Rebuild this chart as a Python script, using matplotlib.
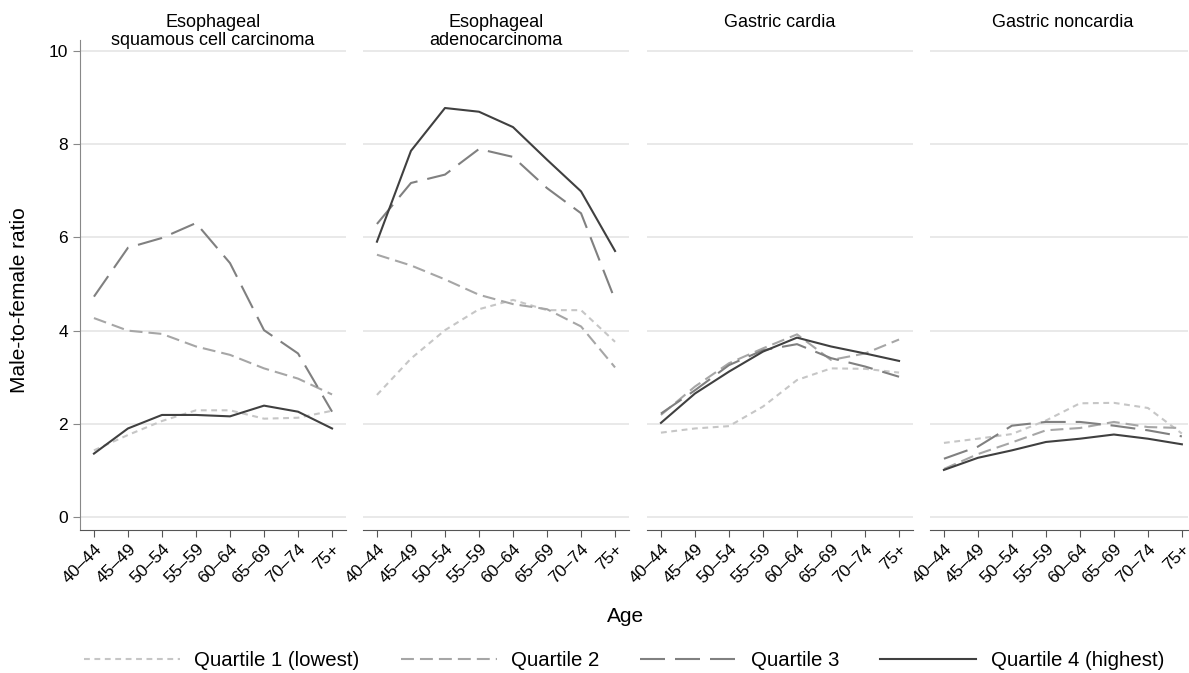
import numpy as np
import matplotlib.pyplot as plt

plt.rcParams['font.family'] = ['Liberation Sans', 'DejaVu Sans']

# -----------------------------
# Data
# -----------------------------
ages = ["40\u201344", "45\u201349", "50\u201354", "55\u201359", "60\u201364", "65\u201369", "70\u201374", "75+"]
panels = ["Esophageal\nsquamous cell carcinoma", "Esophageal\nadenocarcinoma",
          "Gastric cardia", "Gastric noncardia"]
quartiles = ["Quartile 1 (lowest)", "Quartile 2", "Quartile 3", "Quartile 4 (highest)"]

escc_q1 = [1.43, 1.76, 2.06, 2.29, 2.29, 2.11, 2.13, 2.28]
escc_q2 = [4.27, 4.00, 3.93, 3.66, 3.48, 3.19, 2.97, 2.63]
escc_q3 = [4.73, 5.78, 5.99, 6.31, 5.45, 4.01, 3.51, 2.26]
escc_q4 = [1.36, 1.90, 2.19, 2.19, 2.16, 2.39, 2.26, 1.90]

eac_q1 = [2.62, 3.40, 4.01, 4.46, 4.66, 4.44, 4.44, 3.76]
eac_q2 = [5.63, 5.40, 5.10, 4.77, 4.57, 4.46, 4.09, 3.21]
eac_q3 = [6.29, 7.17, 7.35, 7.90, 7.73, 7.06, 6.52, 4.66]
eac_q4 = [5.91, 7.86, 8.78, 8.70, 8.37, 7.67, 6.99, 5.71]

gc_q1 = [1.81, 1.90, 1.95, 2.37, 2.94, 3.19, 3.18, 3.10]
gc_q2 = [2.19, 2.80, 3.30, 3.62, 3.92, 3.37, 3.51, 3.81]
gc_q3 = [2.22, 2.72, 3.26, 3.58, 3.71, 3.41, 3.23, 3.01]
gc_q4 = [2.02, 2.65, 3.12, 3.55, 3.85, 3.66, 3.51, 3.35]

gnc_q1 = [1.59, 1.68, 1.78, 2.07, 2.44, 2.45, 2.34, 1.79]
gnc_q2 = [1.03, 1.35, 1.60, 1.86, 1.91, 2.04, 1.93, 1.91]
gnc_q3 = [1.25, 1.51, 1.96, 2.04, 2.04, 1.96, 1.86, 1.73]
gnc_q4 = [1.01, 1.27, 1.43, 1.61, 1.68, 1.77, 1.68, 1.56]

data = [
    [escc_q1, escc_q2, escc_q3, escc_q4],
    [eac_q1, eac_q2, eac_q3, eac_q4],
    [gc_q1, gc_q2, gc_q3, gc_q4],
    [gnc_q1, gnc_q2, gnc_q3, gnc_q4],
]

# -----------------------------
# Styles
# -----------------------------
colors = ["#c6c6c6", "#a6a6a6", "#808080", "#404040"]
dashes = [(2.8, 2.2), (6.2, 2.9), (12, 4.8), None]

fig = plt.figure(figsize=(11.89, 6.73), dpi=100)
W, H = 1189, 673
lefts = [80, 363, 647, 930]
widths = [266, 266, 266, 258]   # last panel is cut by the figure edge
xmax = [7.41, 7.41, 7.41, 7.18]
top_px, bot_px = 40, 530

x = np.arange(len(ages))
handles = []
for i, name in enumerate(panels):
    ax = fig.add_axes([lefts[i] / W, 1 - bot_px / H, widths[i] / W, (bot_px - top_px) / H])
    for j in range(4):
        ln, = ax.plot(x, data[i][j], color=colors[j], lw=1.5, label=quartiles[j])
        if dashes[j] is not None:
            ln.set_dashes(dashes[j])
        if i == 0:
            handles.append(ln)
    ax.set_xlim(-0.41, xmax[i])
    ax.set_ylim(-0.28, 10.24)
    ax.set_yticks([0, 2, 4, 6, 8, 10])
    ax.grid(axis='y', color='#e3e3e3', lw=1.1)
    ax.set_axisbelow(True)
    for s in ['top', 'right']:
        ax.spines[s].set_visible(False)
    ax.spines['bottom'].set_color('#555555')
    ax.spines['left'].set_color('#888888')
    ax.set_xticks(x)
    ax.set_xticklabels(ages, rotation=45, ha='right', rotation_mode='anchor', fontsize=12.5)
    ax.tick_params(axis='x', length=5, color='#555555', pad=3)
    if i == 0:
        ax.tick_params(axis='y', length=5, color='#888888', labelsize=12.5)
    else:
        ax.spines['left'].set_visible(False)
        ax.tick_params(axis='y', length=0, labelleft=False)
    # panel title, top aligned like the original
    fig.text((lefts[i] + 133) / W, 1 - 14 / H, name, ha='center', va='top',
             fontsize=13, linespacing=1.07)

fig.text(20 / W, 1 - 300 / H, "Male-to-female ratio", rotation=90, ha='center', va='center', fontsize=15)
fig.text(626 / W, 1 - 616 / H, "Age", ha='center', va='center', fontsize=15)
fig.legend(handles=handles, loc='center', bbox_to_anchor=(624 / W, 1 - 661 / H), ncol=4,
           frameon=False, fontsize=14.7, handlelength=4.7, columnspacing=2.0, handletextpad=0.72,
           borderaxespad=0, borderpad=0)

plt.savefig("out.png", dpi=100)
